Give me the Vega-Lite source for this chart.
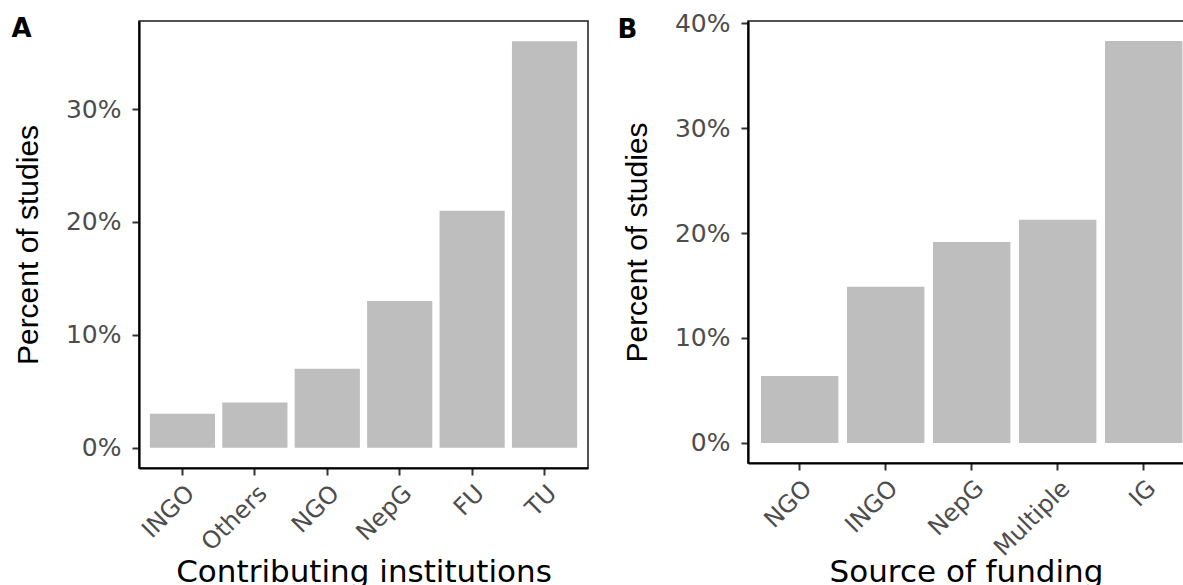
{
  "$schema": "https://vega.github.io/schema/vega-lite/v6.json",
  "background": "white",
  "padding": {"left": 10, "top": 10, "right": 0, "bottom": 0},
  "bounds": "flush",
  "spacing": 160,
  "config": {
    "view": {"stroke": "#1a1a1a", "strokeWidth": 1.5},
    "axis": {
      "domainColor": "black", "domainWidth": 2.2,
      "tickColor": "#333333", "tickWidth": 2, "tickSize": 7,
      "labelColor": "#4d4d4d", "labelFont": "DejaVu Sans", "labelFontSize": 25,
      "titleColor": "black", "titleFontWeight": "normal", "grid": false
    },
    "axisY": {"titleFont": "Liberation Sans", "titleFontSize": 30, "labelPadding": 11, "titlePadding": 22},
    "axisX": {"titleFont": "DejaVu Sans", "titleFontSize": 31, "labelFontSize": 24, "labelAngle": -45, "labelAlign": "right", "labelBaseline": "top", "labelPadding": 6, "titlePadding": 6},
    "title": {"font": "DejaVu Sans", "fontSize": 26, "fontWeight": "bold", "anchor": "start", "frame": "bounds", "color": "black", "baseline": "alphabetic", "offset": 0},
    "bar": {"color": "#bebebe"}
  },
  "hconcat": [
    {
      "width": 449,
      "height": 447,
      "title": {"text": "A", "dx": -2, "dy": 25},
      "data": {"values": [
        {"institution": "INGO", "percent": 3},
        {"institution": "Others", "percent": 4},
        {"institution": "NGO", "percent": 7},
        {"institution": "NepG", "percent": 13},
        {"institution": "FU", "percent": 21},
        {"institution": "TU", "percent": 36}
      ]},
      "mark": {"type": "bar"},
      "encoding": {
        "x": {"field": "institution", "type": "nominal", "sort": null, "title": "Contributing institutions",
              "scale": {"paddingInner": 0.1, "paddingOuter": 0.15},
              "axis": {"titlePadding": 3}},
        "y": {"field": "percent", "type": "quantitative", "title": "Percent of studies",
              "scale": {"domain": [-1.8, 37.8], "nice": false, "zero": false},
              "axis": {"values": [0, 10, 20, 30], "labelExpr": "datum.value + '%'"}}
      }
    },
    {
      "width": 436,
      "height": 442,
      "title": {"text": "B", "dx": -5, "dy": 36},
      "data": {"values": [
        {"source": "NGO", "percent": 6.383},
        {"source": "INGO", "percent": 14.894},
        {"source": "NepG", "percent": 19.149},
        {"source": "Multiple", "percent": 21.277},
        {"source": "IG", "percent": 38.298}
      ]},
      "mark": {"type": "bar"},
      "encoding": {
        "x": {"field": "source", "type": "nominal", "sort": null, "title": "Source of funding",
              "scale": {"paddingInner": 0.1, "paddingOuter": 0.085, "align": 0.89},
              "axis": {"titlePadding": -3}},
        "y": {"field": "percent", "type": "quantitative", "title": "Percent of studies",
              "scale": {"domain": [-1.915, 40.213], "nice": false, "zero": false},
              "axis": {"values": [0, 10, 20, 30, 40], "labelExpr": "datum.value + '%'"}}
      }
    }
  ]
}
